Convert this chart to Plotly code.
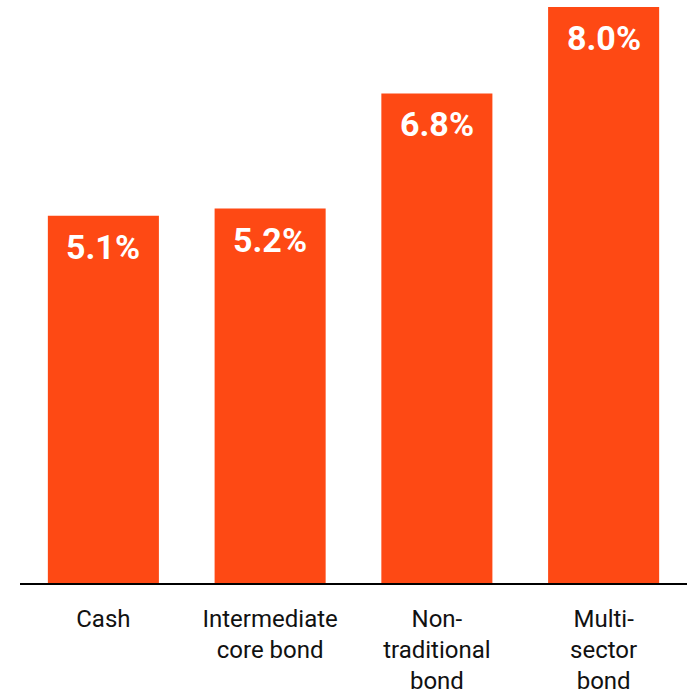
import plotly.graph_objects as go

categories = ["Cash", "Intermediate<br>core bond", "Non-<br>traditional<br>bond", "Multi-<br>sector<br>bond"]
values = [5.1, 5.2, 6.8, 8.0]
value_labels = ["5.1%", "5.2%", "6.8%", "8.0%"]

BAR = "#FE4914"
FONT = "Roboto"

fig = go.Figure(go.Bar(x=categories, y=values, marker=dict(color=BAR, line=dict(width=0)),
                       hoverinfo="skip"))

for c, v, t in zip(categories, values, value_labels):
    fig.add_annotation(x=c, y=v, text="<b>%s</b>" % t, showarrow=False,
                       yanchor="middle", yshift=-31,
                       font=dict(family=FONT, size=34, color="white"))

fig.update_layout(
    width=687, height=695,
    margin=dict(l=20, r=0, t=0, b=112),
    paper_bgcolor="white", plot_bgcolor="white",
    bargap=0.334, showlegend=False,
    font=dict(family=FONT, color="#111111"),
    xaxis=dict(showline=True, linecolor="black", linewidth=2, ticks="",
               tickfont=dict(family=FONT, size=24, color="#111111"),
               ticklabelstandoff=13, showgrid=False, zeroline=False),
    yaxis=dict(range=[0, 8.097], visible=False, showgrid=False, zeroline=False),
)

fig.write_html("out.html", config={"displayModeBar": False},
               post_script="document.body.style.margin='0';document.body.style.overflow='hidden';")
